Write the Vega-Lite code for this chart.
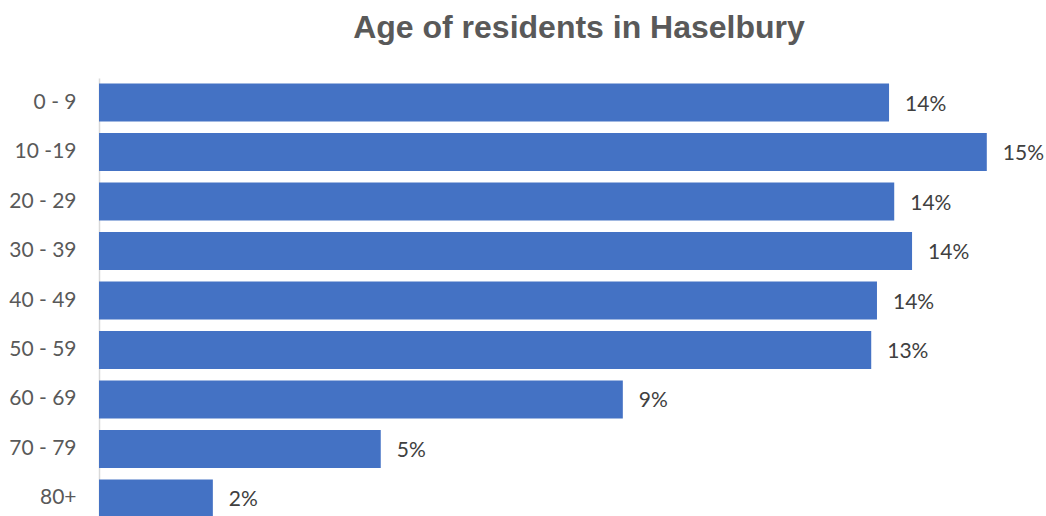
{
  "$schema": "https://vega.github.io/schema/vega-lite/v6.json",
  "autosize": "none",
  "padding": {"left": 99, "top": 78, "right": 27, "bottom": 0},
  "width": 920,
  "height": 445,
  "background": "white",
  "title": {
    "text": "Age of residents in Haselbury",
    "font": "Liberation Sans",
    "fontSize": 32,
    "fontWeight": "bold",
    "color": "#595959",
    "anchor": "middle",
    "dx": 20,
    "offset": 33
  },
  "data": {
    "values": [
      {"age": "0 - 9", "share": 0.1374},
      {"age": "10 -19", "share": 0.1544},
      {"age": "20 - 29", "share": 0.1383},
      {"age": "30 - 39", "share": 0.1414},
      {"age": "40 - 49", "share": 0.1353},
      {"age": "50 - 59", "share": 0.1343},
      {"age": "60 - 69", "share": 0.0911},
      {"age": "70 - 79", "share": 0.049},
      {"age": "80+", "share": 0.0198}
    ]
  },
  "encoding": {
    "y": {
      "field": "age",
      "type": "nominal",
      "sort": null,
      "title": null,
      "scale": {"paddingInner": 0.23, "paddingOuter": 0.11},
      "axis": {
        "ticks": false,
        "labelFont": "Lato",
        "labelFontSize": 21,
        "labelColor": "#595959",
        "labelPadding": 23,
        "domainColor": "#d9d9d9",
        "domainWidth": 1.5,
        "grid": false
      }
    },
    "x": {
      "field": "share",
      "type": "quantitative",
      "scale": {"domain": [0, 0.16]},
      "axis": null
    }
  },
  "layer": [
    {"mark": {"type": "bar", "color": "#4472C4"}},
    {
      "mark": {
        "type": "text",
        "align": "left",
        "baseline": "middle",
        "dx": 16,
        "dy": 2,
        "font": "Lato",
        "fontSize": 21,
        "color": "#404040"
      },
      "encoding": {
        "text": {"field": "share", "type": "quantitative", "format": ".0%"}
      }
    }
  ],
  "config": {"view": {"stroke": null}}
}
